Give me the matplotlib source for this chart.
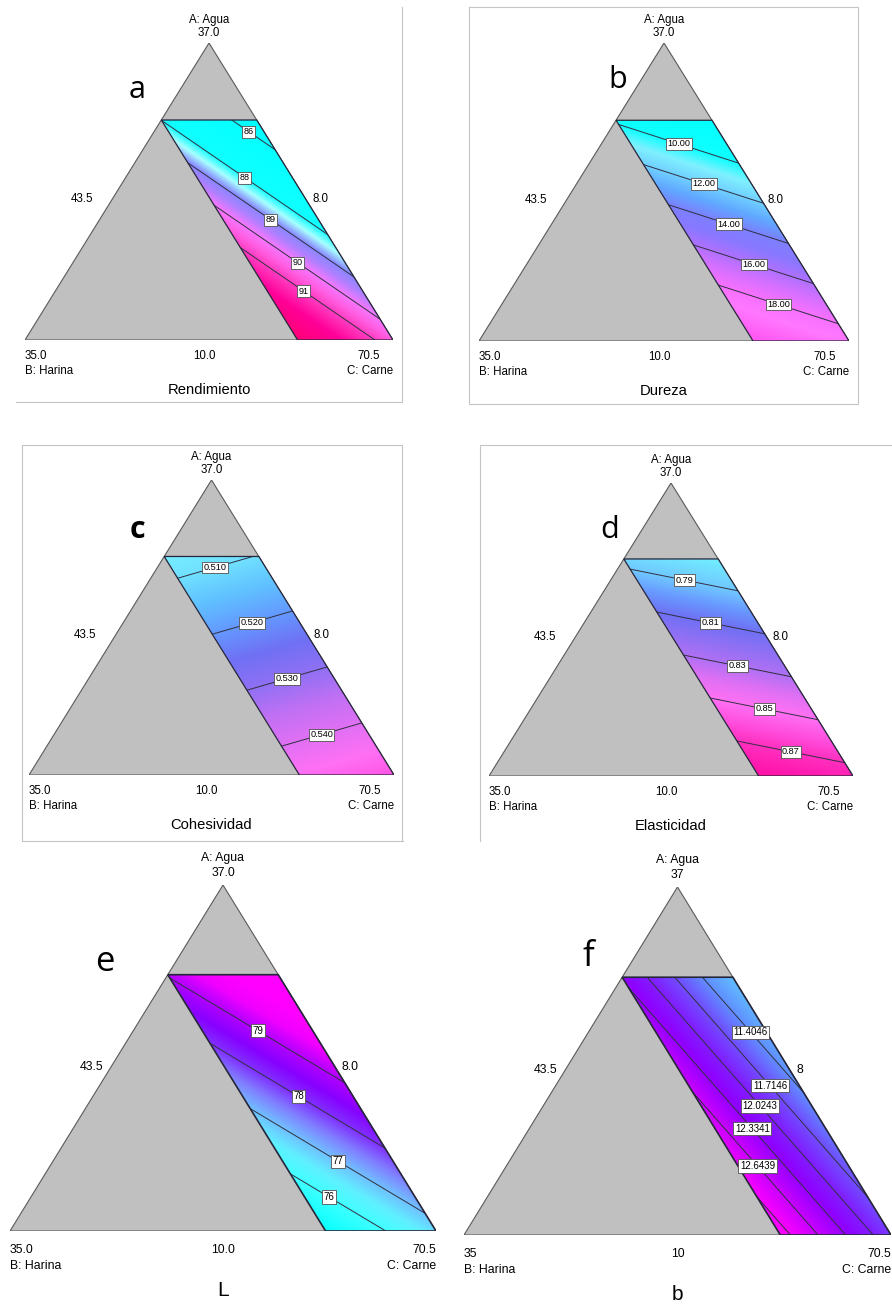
import numpy as np
import matplotlib
matplotlib.use("Agg")
import matplotlib.pyplot as plt
from matplotlib.colors import LinearSegmentedColormap
from matplotlib.patches import Polygon
from matplotlib.path import Path
from matplotlib.lines import Line2D

plt.rcParams["font.family"] = ["Liberation Sans", "DejaVu Sans"]

# mixture components (real units) and constraints of the design
comp_low = [10.0, 8.0, 43.5]     # A: Agua, B: Harina, C: Carne
comp_high = [37.0, 35.0, 70.5]
a_max = 30.0
b_max = 15.0

# linear Scheffe coefficients on pseudo components (A, B, C)
coef_rend = [83.48, 100.87, 90.49]
coef_dur = [4.02, 26.28, 18.86]
coef_coh = [0.4966, 0.5333, 0.5493]
coef_ela = [0.7398, 0.9152, 0.8762]
coef_L = [82.03, 70.54, 76.73]
coef_b = [10.796, 16.613, 11.826]

lev_rend = [86, 88, 89, 90, 91]
lev_dur = [10, 12, 14, 16, 18]
lev_coh = [0.51, 0.52, 0.53, 0.54]
lev_ela = [0.79, 0.81, 0.83, 0.85, 0.87]
lev_L = [76, 77, 78, 79]
lev_b = [11.4046, 11.7146, 12.0243, 12.3341, 12.6439, 12.9537]

lab_rend = ["86", "88", "89", "90", "91"]
lab_dur = ["10.00", "12.00", "14.00", "16.00", "18.00"]
lab_coh = ["0.510", "0.520", "0.530", "0.540"]
lab_ela = ["0.79", "0.81", "0.83", "0.85", "0.87"]
lab_L = ["76", "77", "78", "79"]
lab_b = ["11.4046", "11.7146", "12.0243", "12.3341", "12.6439", ""]

names = ["A: Agua", "B: Harina", "C: Carne"]
ticks_1 = ["37.0", "43.5", "8.0", "35.0", "10.0", "70.5"]
ticks_2 = ["37", "43.5", "8", "35", "10", "70.5"]

# colour stops (response value, colour) for each map
stops_rend = [(85.0, "#00ffff"), (88.0, "#10ffff"), (88.5, "#a8ffff"), (89.0, "#8888ff"),
              (89.5, "#b080ff"), (90.0, "#f478ff"), (90.5, "#ff60e4"), (91.0, "#ff40c4"),
              (92.0, "#ff0098"), (93.5, "#ff0070")]
stops_dur = [(7.5, "#00ffff"), (10.0, "#10ffff"), (11.0, "#80f0ff"), (12.0, "#70d0ff"),
             (13.0, "#60a8ff"), (14.0, "#7c80ff"), (15.0, "#8a78ff"), (16.0, "#b070ff"),
             (17.0, "#d870ff"), (18.0, "#f870ff"), (19.0, "#ff78ff"), (21.0, "#ff50f0")]
stops_coh = [(0.505, "#78f0ff"), (0.510, "#70e0ff"), (0.515, "#60c0ff"), (0.520, "#6498ff"),
             (0.525, "#7070f4"), (0.530, "#9070f4"), (0.535, "#c070f4"), (0.540, "#e070f4"),
             (0.545, "#ff70f4"), (0.550, "#ff50e4")]
stops_ela = [(0.775, "#70f0ff"), (0.79, "#70c8ff"), (0.80, "#6898ff"), (0.81, "#7070f4"),
             (0.82, "#9070f4"), (0.83, "#b070f4"), (0.84, "#e070f4"), (0.85, "#ff70f4"),
             (0.86, "#ff50e0"), (0.87, "#ff30c0"), (0.89, "#ff08a0")]
stops_L = [(75.0, "#00ffff"), (76.0, "#40ffff"), (76.5, "#60f0ff"), (77.0, "#70c0ff"),
           (77.5, "#8080ff"), (78.0, "#8030ff"), (78.5, "#8800ff"), (79.0, "#b000ff"),
           (79.5, "#f000ff"), (80.0, "#ff00ff"), (81.0, "#ff00ff")]
stops_b = [(11.0, "#60c8ff"), (11.4, "#6090ff"), (11.7, "#7050ff"), (12.0, "#8020ff"),
           (12.3, "#9000ff"), (12.6, "#c000ff"), (12.9, "#f000ff"), (13.1, "#ff00ff")]

W, H = 892, 1304
fig = plt.figure(figsize=(W / 100, H / 100), dpi=100)
fig.patch.set_facecolor("white")

# layout: triangle box in pixels (left, right, apex y, base y), letter offset, row style
panels = [
    dict(coef=coef_rend, lev=lev_rend, lab=lab_rend, stops=stops_rend, title="Rendimiento",
         ticks=ticks_1, box=(25, 393, 43, 340), letter="a", loff=(-72, 47), row=0,
         frac=[0.38, 0.5, 0.5, 0.5, 0.47]),
    dict(coef=coef_dur, lev=lev_dur, lab=lab_dur, stops=stops_dur, title="Dureza",
         ticks=ticks_1, box=(479, 849, 43, 341), letter="b", loff=(-46, 37), row=0),
    dict(coef=coef_coh, lev=lev_coh, lab=lab_coh, stops=stops_coh, title="Cohesividad",
         ticks=ticks_1, box=(29, 394, 480, 775), letter="c", loff=(-74, 50), row=0),
    dict(coef=coef_ela, lev=lev_ela, lab=lab_ela, stops=stops_ela, title="Elasticidad",
         ticks=ticks_1, box=(489, 853, 483, 776), letter="d", loff=(-61, 47), row=0),
    dict(coef=coef_L, lev=lev_L, lab=lab_L, stops=stops_L, title="L",
         ticks=ticks_1, box=(10, 436, 885, 1231), letter="e", loff=(-118, 77), row=1,
         frac=[0.4, 0.5, 0.5, 0.5]),
    dict(coef=coef_b, lev=lev_b, lab=lab_b, stops=stops_b, title="b",
         ticks=ticks_2, box=(464, 891, 887, 1235), letter="f", loff=(-89, 70), row=1,
         frac=[0.475, 0.49, 0.5, 0.57, 0.52, 0.5]),
]

rows = [
    dict(top=(-23, -10), lmid=(-24, 8), rmid=(11, 8), bot=(16, 31), bmid=-5, brv=-13,
         title_dy=50, fs=8.3, tfs=10.6, cfs=6.6, lfs=22, elw=0.9),
    dict(top=(-27, -12), lmid=(-13, 9), rmid=(12, 9), bot=(19, 35), bmid=0, brv=0,
         title_dy=59, fs=8.8, tfs=15, cfs=7.0, lfs=25, elw=1.2),
]


def to_xy(a, b):
    return 1 - b - a / 2, a


pa = (a_max - comp_low[0]) / (comp_high[0] - comp_low[0])
pb = (b_max - comp_low[1]) / (comp_high[1] - comp_low[1])
region = [to_xy(pa, pb), to_xy(pa, 0), to_xy(0, 0), to_xy(0, pb)]
rpath = Path(region + [region[0]], closed=True)

gx, gy = np.meshgrid(np.linspace(0, 1, 500), np.linspace(0, 1, 500))
ga = gy
gb = 1 - gx - gy / 2
gc = gx - gy / 2


def make_cmap(stops):
    v = np.array([s[0] for s in stops])
    pos = (v - v[0]) / (v[-1] - v[0])
    cm = LinearSegmentedColormap.from_list("m", list(zip(pos, [s[1] for s in stops])))
    return cm, v[0], v[-1]


def note(ax, xy, dx, dy, s, **kw):
    ax.annotate(s, xy=xy, xytext=(dx * 0.72, -dy * 0.72), textcoords="offset points",
                annotation_clip=False, **kw)


for p in panels:
    st = rows[p["row"]]
    x0, x1, y0, y1 = p["box"]
    ax = fig.add_axes([x0 / W, 1 - y1 / H, (x1 - x0) / W, (y1 - y0) / H])
    ax.set_xlim(0, 1)
    ax.set_ylim(0, 1)
    ax.axis("off")

    ax.add_patch(Polygon([(0, 0), (1, 0), (0.5, 1)], closed=True, fc="#c0c0c0",
                         ec="#5a5a5a", lw=0.8, zorder=1))
    reg = Polygon(region, closed=True, fc="none", ec="#26263a", lw=st["elw"], zorder=4)
    ax.add_patch(reg)

    ca, cb, cc = p["coef"]
    z = ca * ga + cb * gb + cc * gc
    cmap, vmin, vmax = make_cmap(p["stops"])
    im = ax.imshow(z, extent=(0, 1, 0, 1), origin="lower", cmap=cmap, vmin=vmin, vmax=vmax,
                   interpolation="bilinear", aspect="auto", zorder=2)
    im.set_clip_path(reg)

    cs = ax.contour(gx, gy, z, levels=p["lev"], colors="#303040", linewidths=0.7, zorder=3)
    cs.set_clip_path(reg)

    fracs = p.get("frac", [0.5] * len(p["lev"]))
    for path, txt, fr in zip(cs.get_paths(), p["lab"], fracs):
        if not txt or len(path.vertices) == 0:
            continue
        v = path.vertices[rpath.contains_points(path.vertices)]
        if len(v) < 2:
            continue
        v = v[np.argsort(-v[:, 1])]   # walk each line from its upper end
        d = ax.transData.transform(v)
        s = np.concatenate([[0], np.cumsum(np.hypot(*np.diff(d, axis=0).T))])
        k = min(np.searchsorted(s, s[-1] * fr), len(v) - 1)
        ax.text(v[k, 0], v[k, 1], txt, ha="center", va="center", fontsize=st["cfs"], zorder=6,
                bbox=dict(boxstyle="square,pad=0.16", fc="white", ec="#505050", lw=0.6))

    t = p["ticks"]
    fs = st["fs"]
    note(ax, (0.5, 1), 0, st["top"][0], names[0], ha="center", va="center", fontsize=fs)
    note(ax, (0.5, 1), 0, st["top"][1], t[0], ha="center", va="center", fontsize=fs)
    note(ax, (0.25, 0.5), st["lmid"][0], st["lmid"][1], t[1], ha="right", va="center", fontsize=fs)
    note(ax, (0.75, 0.5), st["rmid"][0], st["rmid"][1], t[2], ha="left", va="center", fontsize=fs)
    note(ax, (0, 0), 0, st["bot"][0], t[3], ha="left", va="center", fontsize=fs)
    note(ax, (0, 0), 0, st["bot"][1], names[1], ha="left", va="center", fontsize=fs)
    note(ax, (0.5, 0), st["bmid"], st["bot"][0], t[4], ha="center", va="center", fontsize=fs)
    note(ax, (1, 0), st["brv"], st["bot"][0], t[5], ha="right", va="center", fontsize=fs)
    note(ax, (1, 0), 0, st["bot"][1], names[2], ha="right", va="center", fontsize=fs)
    note(ax, (0.5, 0), 0, st["title_dy"], p["title"], ha="center", va="center",
         fontsize=st["tfs"])
    note(ax, (0.5, 1), p["loff"][0], p["loff"][1], p["letter"], ha="center", va="center",
         fontsize=st["lfs"], family=["Open Sans", "DejaVu Sans"],
         fontweight="bold" if p["letter"] == "c" else "normal")

# thin grey frames around the exported panels
frames = [
    [(402, 7), (402, 402), (16, 402)],
    [(469, 7), (858, 7), (858, 404), (469, 404), (469, 7)],
    [(402, 841), (402, 445), (22, 445), (22, 841), (403, 841)],
    [(480, 841), (480, 445), (892, 445)],
]
for fr in frames:
    xs = [q[0] / W for q in fr]
    ys = [1 - q[1] / H for q in fr]
    fig.add_artist(Line2D(xs, ys, color="#c4c4c4", lw=0.8, transform=fig.transFigure))

fig.savefig("out.png", dpi=100, facecolor="white")
